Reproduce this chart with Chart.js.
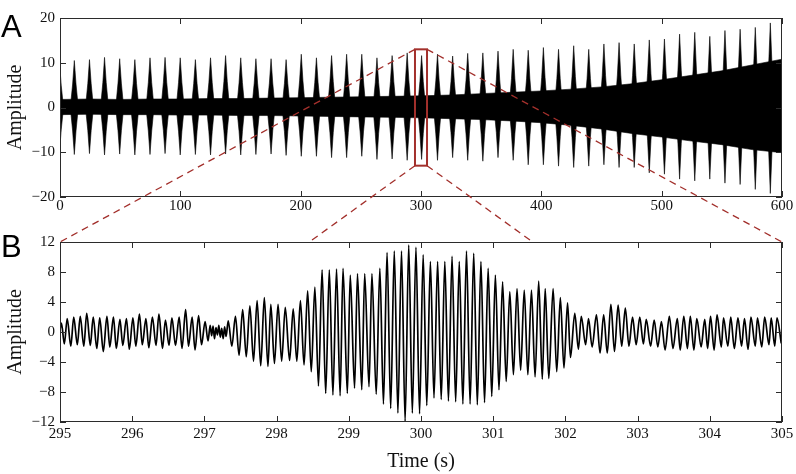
<!DOCTYPE html>
<html>
<head>
<meta charset="utf-8">
<script src="https://cdn.jsdelivr.net/npm/chart.js@4.4.0/dist/chart.umd.min.js"></script>
<style>
    body { margin: 0; background: #fff; }
    #page { position: relative; width: 796px; height: 474px; overflow: hidden; }
    #wrapA { position: absolute; left: 0; top: 0; width: 796px; height: 230px; }
    #wrapB { position: absolute; left: 0; top: 230px; width: 796px; height: 244px; }
    #links { position: absolute; left: 0; top: 0; z-index: 2; pointer-events: none; }
    .panel { position: absolute; left: 1px; font: 31px "Liberation Sans"; line-height: 1; color: #000; z-index: 3; }
</style>
</head>
<body>
<div id="page">
    <div id="wrapA"><canvas id="chartA"></canvas></div>
    <div id="wrapB"><canvas id="chartB"></canvas></div>
    <canvas id="links" width="796" height="474"></canvas>
    <div class="panel" style="top:11px">A</div>
    <div class="panel" style="top:231px">B</div>
</div>
<script>
// panel A: envelope of the 600 s recording
const bgT  = [0, 25, 50, 75, 100, 125, 150, 175, 200, 225, 250, 275, 300, 325, 350, 375, 400, 425, 450, 475, 500, 525, 550, 575, 600];
const bgHi = [1.8, 1.9, 1.8, 1.9, 1.9, 2.0, 2.0, 2.1, 2.2, 2.3, 2.4, 2.5, 2.6, 2.8, 3.1, 3.4, 3.7, 4.1, 4.6, 5.3, 6.2, 7.2, 8.2, 9.5, 10.8];
const bgLo = [-1.6, -1.5, -1.6, -1.6, -1.7, -1.7, -1.8, -1.8, -1.9, -2.0, -2.1, -2.2, -2.3, -2.5, -2.7, -3.0, -3.4, -4.0, -4.8, -5.8, -6.6, -7.5, -8.3, -9.4, -10.1];

const burstT  = [-0.4, 11.9, 24.5, 37.0, 49.6, 62.2, 74.8, 87.3, 99.9, 112.5, 125.1, 137.6, 150.2, 162.8, 175.4, 187.9,
                 200.5, 213.1, 225.7, 238.2, 250.8, 263.4, 276.0, 288.5, 300.5, 313.7, 326.3, 338.8, 351.4, 364.0, 376.6, 389.1,
                 401.7, 414.3, 426.9, 439.4, 452.0, 464.6, 477.2, 489.7, 502.3, 514.9, 527.5, 540.0, 552.6, 565.2, 577.8, 590.3, 601.0];
const burstHi = [10.0, 10.5, 10.7, 11.2, 10.9, 10.7, 11.1, 11.2, 11.1, 10.7, 11.1, 11.6, 11.1, 10.9, 10.9, 10.7,
                 11.9, 11.1, 11.6, 11.9, 11.9, 11.1, 11.6, 12.2, 11.6, 11.9, 11.5, 12.1, 12.2, 12.6, 13.0, 12.8,
                 13.4, 13.0, 13.8, 13.0, 14.2, 14.5, 14.2, 15.1, 15.3, 16.4, 16.8, 15.9, 17.2, 17.5, 17.9, 18.9, 17.9];
const burstLo = [-10.0, -10.5, -10.3, -10.6, -10.4, -10.6, -10.5, -10.3, -10.6, -10.5, -10.6, -10.4, -10.6, -10.5, -10.4, -10.7,
                 -10.9, -10.9, -11.2, -11.2, -10.9, -11.6, -11.5, -11.8, -11.6, -11.8, -11.2, -11.8, -12.0, -11.2, -11.8, -12.8,
                 -12.8, -13.1, -13.4, -13.1, -12.8, -13.4, -13.4, -14.6, -14.9, -16.0, -16.4, -16.0, -16.9, -17.2, -18.3, -19.2, -17.9];

// panel B: 295-305 s, successive peaks and troughs
const zoomT = [
    295.00, 295.02, 295.06, 295.10, 295.15, 295.19, 295.24, 295.28, 295.33, 295.37, 295.42, 295.46, 295.51, 295.55, 295.60,
    295.65, 295.69, 295.74, 295.78, 295.83, 295.87, 295.92, 295.96, 296.01, 296.05, 296.10, 296.14, 296.19, 296.23, 296.28,
    296.33, 296.37, 296.42, 296.46, 296.51, 296.55, 296.60, 296.65, 296.69, 296.74, 296.78, 296.83, 296.87, 296.92, 296.96,
    297.01, 297.05, 297.08, 297.10, 297.12, 297.14, 297.16, 297.18, 297.20, 297.22, 297.24, 297.26, 297.28, 297.30, 297.33,
    297.38, 297.43, 297.48, 297.53, 297.58, 297.63, 297.68, 297.73, 297.78, 297.83, 297.88, 297.92, 297.97, 298.02, 298.07,
    298.12, 298.18, 298.23, 298.28, 298.33, 298.38, 298.43, 298.48, 298.53, 298.58, 298.63, 298.68, 298.73, 298.78, 298.83,
    298.88, 298.92, 298.98, 299.02, 299.08, 299.12, 299.18, 299.22, 299.28, 299.32, 299.38, 299.43, 299.48, 299.53, 299.58,
    299.63, 299.68, 299.73, 299.78, 299.83, 299.88, 299.93, 299.98, 300.03, 300.08, 300.13, 300.18, 300.23, 300.28, 300.33,
    300.38, 300.43, 300.48, 300.53, 300.58, 300.63, 300.68, 300.73, 300.78, 300.83, 300.88, 300.93, 300.98, 301.03, 301.08,
    301.13, 301.18, 301.23, 301.28, 301.33, 301.38, 301.43, 301.48, 301.53, 301.58, 301.63, 301.68, 301.72, 301.77, 301.83,
    301.88, 301.93, 301.98, 302.03, 302.07, 302.13, 302.18, 302.22, 302.28, 302.32, 302.37, 302.43, 302.48, 302.53, 302.58,
    302.63, 302.68, 302.73, 302.78, 302.83, 302.88, 302.93, 302.98, 303.03, 303.08, 303.12, 303.18, 303.23, 303.28, 303.33,
    303.38, 303.44, 303.49, 303.55, 303.59, 303.64, 303.69, 303.73, 303.78, 303.82, 303.88, 303.93, 303.97, 304.01, 304.06,
    304.10, 304.16, 304.19, 304.25, 304.29, 304.34, 304.39, 304.44, 304.48, 304.53, 304.57, 304.63, 304.66, 304.72, 304.76,
    304.82, 304.85, 304.90, 304.93, 304.99
];
const zoomA = [
    0.3, 1.2, -1.6, 1.8, -1.9, 2.0, -1.7, 2.1, -1.9, 2.5, -1.8, 2.0, -2.2, 1.9, -2.6,
    2.1, -2.0, 2.0, -2.2, 1.7, -1.8, 1.8, -2.3, 1.9, -1.9, 2.4, -1.7, 1.8, -2.1, 2.0,
    -1.8, 2.4, -2.2, 1.6, -1.8, 1.9, -1.8, 2.0, -2.2, 3.0, -1.9, 2.0, -2.4, 2.2, -1.7,
    1.4, -1.2, 0.9, -0.5, 0.8, -0.9, 0.6, -0.4, 0.9, -0.7, 0.5, -0.9, 0.7, -0.6, 1.5,
    -1.9, 2.1, -3.1, 3.0, -3.3, 3.5, -3.9, 4.2, -4.5, 4.6, -4.6, 3.7, -4.2, 3.7, -3.9,
    3.3, -3.8, 3.1, -3.9, 4.2, -4.4, 5.5, -5.3, 6.0, -7.2, 8.3, -8.2, 8.3, -8.4, 8.4,
    -8.5, 8.5, -8.2, 7.6, -7.5, 7.8, -7.7, 7.8, -7.3, 7.8, -8.3, 8.5, -9.6, 10.6, -10.2,
    10.8, -10.8, 10.8, -11.9, 11.6, -10.8, 11.3, -10.9, 10.3, -9.8, 9.4, -8.8, 9.4, -9.0, 9.4,
    -9.2, 10.1, -9.3, 9.4, -9.6, 10.8, -9.6, 10.5, -9.7, 9.4, -9.4, 8.5, -8.6, 7.6, -7.7,
    6.7, -6.6, 5.4, -5.7, 5.8, -5.1, 5.6, -5.7, 5.6, -6.0, 6.8, -6.3, 5.8, -6.2, 5.8,
    -5.3, 4.6, -4.8, 3.9, -3.4, 2.5, -2.3, 2.1, -1.7, 1.8, -2.0, 2.3, -2.8, 2.3, -2.8,
    3.7, -2.6, 3.6, -1.9, 3.2, -1.9, 2.0, -1.7, 2.0, -1.6, 1.7, -1.9, 1.6, -2.0, 1.4,
    -2.4, 2.1, -2.2, 1.8, -2.4, 2.1, -2.2, 2.1, -2.4, 1.8, -2.0, 1.7, -2.2, 2.1, -2.4,
    2.3, -2.0, 1.9, -1.9, 2.0, -2.2, 1.9, -1.9, 1.8, -2.3, 2.0, -1.9, 1.9, -2.0, 2.0,
    -1.7, 1.9, -1.9, 1.9, -1.5
];

const ticksAX = [0, 100, 200, 300, 400, 500, 600];
const ticksAY = [-20, -10, 0, 10, 20];
const ticksBX = [295, 296, 297, 298, 299, 300, 301, 302, 303, 304, 305];
const ticksBY = [-12, -8, -4, 0, 4, 8, 12];
const zoomWindow = [295, 305];
const zoomBox = [-13, 13];

// outline of one burst: [time offset in s, fraction of the burst peak]
const spikeShape = [[-3.3, 0], [-1.4, 0.5], [0, 1], [1.4, 0.5], [3.3, 0]];
const tickFont = { family: 'Liberation Serif', size: 15 };
const titleFont = { family: 'Liberation Serif', size: 20 };
const minus = v => String(v).replace('-', '\u2212');

// MATLAB style box with inward ticks on all four sides
const framePlugin = {
    id: 'frame',
    afterDatasetsDraw(chart) {
        const { ctx, chartArea: a, scales } = chart;
        ctx.save();
        ctx.strokeStyle = '#2b2b2b';
        ctx.lineWidth = 1;
        ctx.beginPath();
        scales.x.ticks.forEach(t => {
            const px = Math.round(scales.x.getPixelForValue(t.value)) + 0.5;
            ctx.moveTo(px, a.bottom); ctx.lineTo(px, a.bottom - 6);
            ctx.moveTo(px, a.top); ctx.lineTo(px, a.top + 6);
        });
        scales.y.ticks.forEach(t => {
            const py = Math.round(scales.y.getPixelForValue(t.value)) + 0.5;
            ctx.moveTo(a.left, py); ctx.lineTo(a.left + 6, py);
            ctx.moveTo(a.right, py); ctx.lineTo(a.right - 6, py);
        });
        ctx.stroke();
        ctx.strokeRect(Math.round(a.left) + 0.5, Math.round(a.top) + 0.5, Math.round(a.width) - 1, Math.round(a.height) - 1);
        ctx.restore();
    }
};

function axes(xTicks, yTicks, xHeight, xPad, withXTitle) {
    return {
        x: {
            type: 'linear', min: xTicks[0], max: xTicks[xTicks.length - 1],
            afterBuildTicks: s => { s.ticks = xTicks.map(v => ({ value: v })); },
            afterFit: s => { s.height = xHeight; s.paddingLeft = 0; s.paddingRight = 0; },
            grid: { display: false, drawTicks: false },
            border: { display: false },
            ticks: { font: tickFont, color: '#111', padding: xPad, maxRotation: 0, autoSkip: false, callback: minus },
            title: { display: withXTitle, text: 'Time (s)', font: titleFont, color: '#111', padding: { top: 0, bottom: 0 } }
        },
        y: {
            type: 'linear', min: yTicks[0], max: yTicks[yTicks.length - 1],
            afterBuildTicks: s => { s.ticks = yTicks.map(v => ({ value: v })); },
            afterFit: s => { s.width = 60; s.paddingTop = 0; s.paddingBottom = 0; },
            grid: { display: false, drawTicks: false },
            border: { display: false },
            ticks: { font: tickFont, color: '#111', padding: 5, autoSkip: false, callback: minus },
            title: { display: true, text: 'Amplitude', font: titleFont, color: '#111', padding: { top: 4, bottom: 0 } }
        }
    };
}

const bandHi = bgT.map((t, i) => ({ x: t, y: bgHi[i] }));
const bandLo = bgT.map((t, i) => ({ x: t, y: bgLo[i] }));
const spikesHi = [], spikesLo = [];
burstT.forEach((t, i) => {
    spikeShape.forEach(([dt, f]) => {
        spikesHi.push({ x: t + dt, y: f * burstHi[i] });
        spikesLo.push({ x: t + dt, y: f * burstLo[i] });
    });
});

const fillStyle = { borderColor: '#000', backgroundColor: '#000', borderWidth: 0.6, pointRadius: 0, tension: 0 };

const chartA = new Chart(document.getElementById('chartA'), {
    type: 'line',
    data: {
        datasets: [
            { ...fillStyle, data: bandHi, fill: '+1' },
            { ...fillStyle, data: bandLo, fill: false },
            { ...fillStyle, data: spikesHi, fill: 'origin' },
            { ...fillStyle, data: spikesLo, fill: 'origin' }
        ]
    },
    options: {
        responsive: true, maintainAspectRatio: false, animation: false,
        layout: { padding: { top: 18, right: 14, bottom: 0, left: 0 } },
        plugins: { legend: { display: false }, tooltip: { enabled: false } },
        scales: axes(ticksAX, ticksAY, 33, 0, false)
    },
    plugins: [framePlugin]
});

const chartB = new Chart(document.getElementById('chartB'), {
    type: 'line',
    data: {
        datasets: [{
            data: zoomT.map((t, i) => ({ x: t, y: zoomA[i] })),
            borderColor: '#000', borderWidth: 1.7, pointRadius: 0,
            cubicInterpolationMode: 'monotone', fill: false
        }]
    },
    options: {
        responsive: true, maintainAspectRatio: false, animation: false,
        layout: { padding: { top: 12, right: 14, bottom: 0, left: 0 } },
        plugins: { legend: { display: false }, tooltip: { enabled: false } },
        scales: axes(ticksBX, ticksBY, 52, 3, true)
    },
    plugins: [framePlugin]
});

// zoom rectangle in A and the dashed guides down to B
function drawLinks() {
    const ctx = document.getElementById('links').getContext('2d');
    const xa = chartA.scales.x, ya = chartA.scales.y;
    const b = chartB.chartArea, offB = 230;
    const x1 = xa.getPixelForValue(zoomWindow[0]), x2 = xa.getPixelForValue(zoomWindow[1]);
    const y1 = ya.getPixelForValue(zoomBox[1]), y2 = ya.getPixelForValue(zoomBox[0]);
    ctx.clearRect(0, 0, 796, 474);
    ctx.save();
    ctx.beginPath();
    ctx.rect(0, 0, 796, b.top + offB);
    ctx.clip();
    ctx.strokeStyle = '#a3302c';
    ctx.lineWidth = 1.3;
    ctx.setLineDash([7, 5]);
    ctx.beginPath();
    ctx.moveTo(x1, y1); ctx.lineTo(b.left, b.top + offB);
    ctx.moveTo(x2, y1); ctx.lineTo(b.right, b.top + offB);
    ctx.moveTo(x1, y2); ctx.lineTo(b.left, b.bottom + offB);
    ctx.moveTo(x2, y2); ctx.lineTo(b.right, b.bottom + offB);
    ctx.stroke();
    ctx.restore();
    ctx.strokeStyle = '#a3302c';
    ctx.lineWidth = 2;
    ctx.strokeRect(x1, y1, x2 - x1, y2 - y1);
}
drawLinks();
</script>
</body>
</html>
